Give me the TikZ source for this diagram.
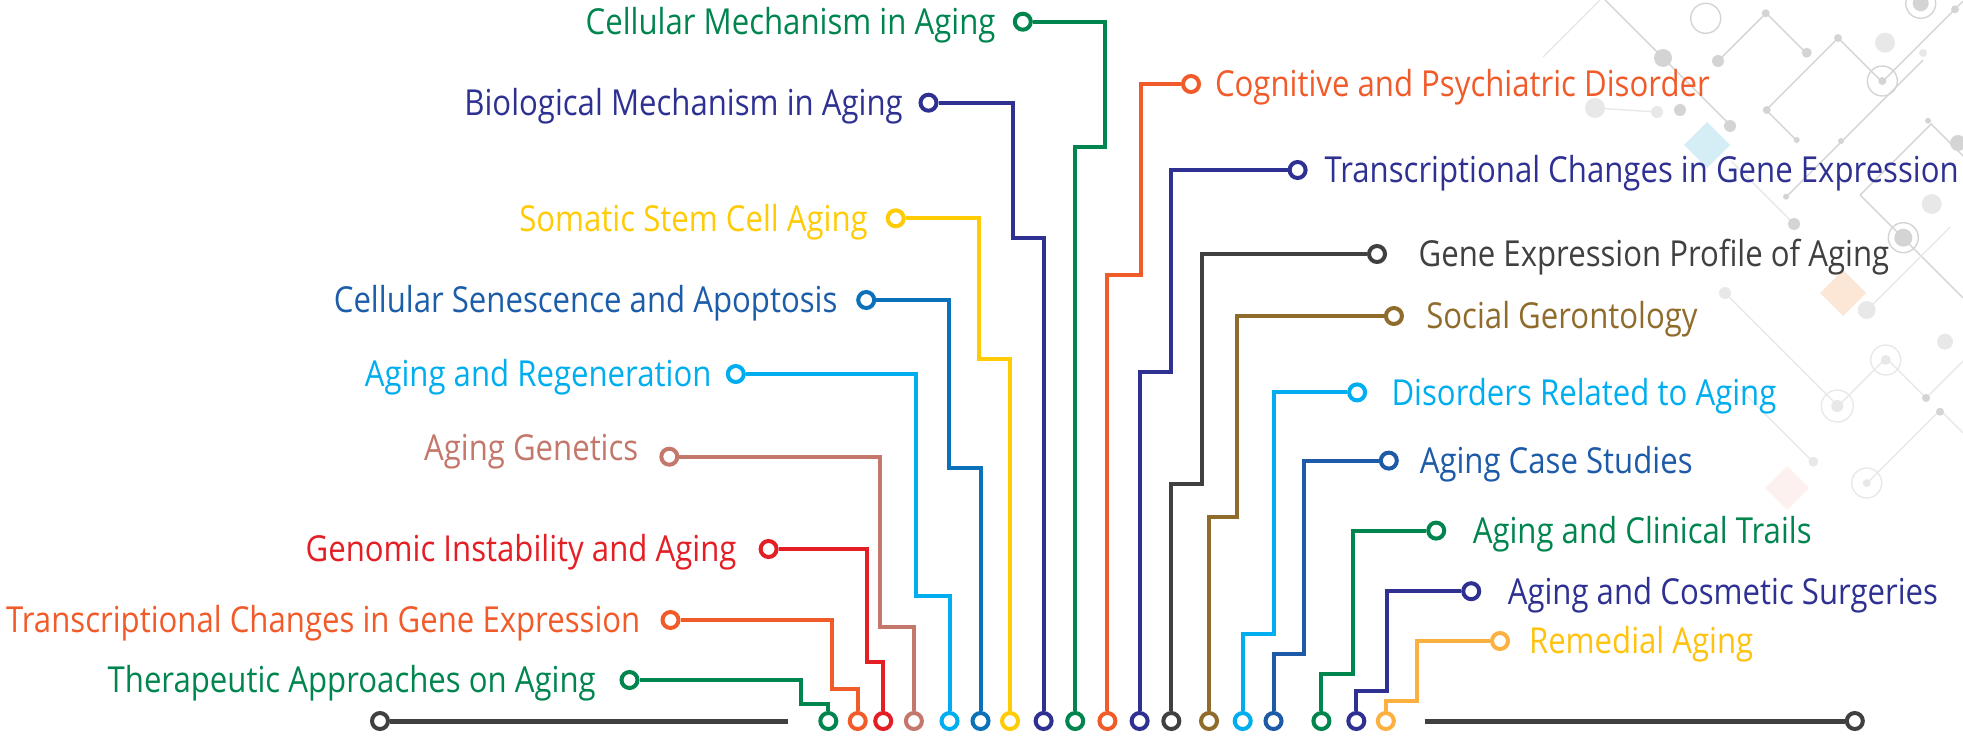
\documentclass[tikz,border=0pt]{standalone}
\usepackage{fontspec}
\setmainfont{Open Sans}[FakeStretch=0.87]
\usetikzlibrary{positioning}

\definecolor{agreen}{HTML}{00854F}
\definecolor{anavy}{HTML}{2E3192}
\definecolor{ayellow}{HTML}{FFCB05}
\definecolor{ablue}{HTML}{0B72BA}
\definecolor{abluetext}{HTML}{1B5DA9}
\definecolor{asky}{HTML}{00AEEF}
\definecolor{arose}{HTML}{C4776B}
\definecolor{ared}{HTML}{E31E25}
\definecolor{aorange}{HTML}{F15A29}
\definecolor{agray}{HTML}{404041}
\definecolor{abrown}{HTML}{8F6C2B}
\definecolor{acase}{HTML}{1D5AA8}
\definecolor{aamber}{HTML}{FBB040}
\definecolor{aambertext}{HTML}{FFC20E}
\definecolor{circ}{HTML}{D4D4D4}
\definecolor{circlight}{HTML}{E8E8E8}

\tikzset{ring/.style={circle,draw=#1,line width=2pt,fill=white,
  minimum size=8pt,inner sep=0pt}}
\tikzset{wire/.style={draw=#1,line width=2pt}}
\tikzset{lbl/.style={text=#1,inner sep=0pt,text height=12.8pt,text depth=0pt,
  font=\fontsize{17.9pt}{21pt}\selectfont}}

\begin{document}
\begin{tikzpicture}[x=0.5pt,y=-0.5pt]
          \useasboundingbox (0,0) rectangle (1963,739);

          % circuit pattern, top right
          \fill[color={rgb,255:red,213;green,237;blue,245}] (1707,122) -- (1730,145) -- (1707,168) -- (1684,145) -- cycle;
          \fill[color={rgb,255:red,252;green,230;blue,213}] (1843,270) -- (1866,293) -- (1843,316) -- (1820,293) -- cycle;
          \fill[color={rgb,255:red,253;green,241;blue,239}] (1787,466) -- (1809,488) -- (1787,510) -- (1765,488) -- cycle;
          \begin{scope}[line width=0.7pt]
          \draw[circ] (1605,0) -- (1663,58) -- (1730,125);
          \draw[circ] (1718,61) -- (1766,13) -- (1806,53);
          \draw[circ] (1766,110) -- (1838,38) -- (1882,82) -- (1963,1);
          \draw[circ] (1766,110) -- (1797,141);
          \draw[circ] (1786,197) -- (1841,142) -- (1923,60);
          \draw[circ] (1860,195) -- (1903,238) -- (1963,298);
          \draw[circ] (1860,195) -- (1931,124) -- (1963,156);
          \draw[circlight] (1794,224) -- (1731,161);
          \draw[circlight] (1725,293) -- (1838,406) -- (1886,358) -- (1926,398) -- (1963,361);
          \draw[circlight] (1867,310) -- (1950,227);
          \draw[circlight] (1813,462) -- (1740,389);
          \draw[circlight] (1867,483) -- (1940,410) -- (1963,433);
          \draw[circlight] (1543,57) -- (1600,0);
          \draw[circlight] (1595,108) -- (1657,112);
          \draw[circ] (1705.7,18.3) circle (7.5pt);
          \draw[circ] (1920.7,3.3) circle (7.5pt);
          \draw[circ] (1882.3,81) circle (7.5pt);
          \draw[circ] (1903.3,237.7) circle (7.5pt);
          \draw[circlight] (1885.7,360) circle (7.5pt);
          \draw[circlight] (1837.3,406) circle (8pt);
          \draw[circlight] (1866.7,483) circle (7.5pt);
          \end{scope}
          \fill[circ] (1920.7,3.3) circle (4pt);
          \fill[circ] (1882.3,81) circle (2pt);
          \fill[circ] (1903.3,237.7) circle (4.5pt);
          \fill[circlight] (1885.7,360) circle (2.5pt);
          \fill[circlight] (1837.3,406) circle (3pt);
          \fill[circlight] (1866.7,483) circle (2pt);
          \fill[circ] (1663,58) circle (4.5pt);
          \fill[circ] (1718,61) circle (3pt);
          \fill[circ] (1765.7,13.3) circle (2pt);
          \fill[circ] (1806.7,52.7) circle (2.5pt);
          \fill[circ] (1838,38) circle (2pt);
          \fill[circlight] (1885,42.7) circle (5pt);
          \fill[circ] (1955,9.3) circle (2pt);
          \fill[circlight] (1923,53) circle (2pt);
          \fill[circ] (1680,110) circle (3pt);
          \fill[circ] (1730,126) circle (3pt);
          \fill[circ] (1766.7,110) circle (2pt);
          \fill[circ] (1796.7,140) circle (1.5pt);
          \fill[circ] (1841,141) circle (1.5pt);
          \fill[circ] (1928,120.7) circle (1.5pt);
          \fill[circ] (1794,224) circle (3pt);
          \fill[circlight] (1931.7,204) circle (5pt);
          \fill[circ] (1786,196.7) circle (1.5pt);
          \fill[circlight] (1725,293) circle (3pt);
          \fill[circlight] (1866.7,310) circle (4.5pt);
          \fill[circlight] (1945,341.7) circle (4pt);
          \fill[circ] (1926,398) circle (2pt);
          \fill[circ] (1940,411.7) circle (2pt);
          \fill[circlight] (1813.3,461.7) circle (2.5pt);
          \fill[circlight] (1595,108) circle (5pt);
          \fill[circlight] (1657,112) circle (3pt);
          \fill[circ] (1958,143) circle (4pt);

          % base line
          \node (g1) at (380,721) [ring=agray] {};
          \node (g2) at (1854.8,721) [ring=agray] {};
          \coordinate (gl) at (787.5,721);
          \coordinate (gr) at (1424.7,721);
          \draw[agray,line width=2.5pt] (g1) -- (gl);
          \draw[agray,line width=2.5pt] (gr) -- (g2);

          % bottom rings
          \node (b1) at (828.3,721) [ring=agreen] {};
          \node (b2) at (857.7,721) [ring=aorange] {};
          \node (b3) at (883.2,721) [ring=ared] {};
          \node (b4) at (913.9,721) [ring=arose] {};
          \node (b5) at (949.5,721) [ring=asky] {};
          \node (b6) at (980.5,721) [ring=ablue] {};
          \node (b7) at (1010,721) [ring=ayellow] {};
          \node (b8) at (1043.6,721) [ring=anavy] {};
          \node (b9) at (1075.2,721) [ring=agreen] {};
          \node (b10) at (1107.4,721) [ring=aorange] {};
          \node (b11) at (1139.6,721) [ring=anavy] {};
          \node (b12) at (1171.3,721) [ring=agray] {};
          \node (b13) at (1209,721) [ring=abrown] {};
          \node (b14) at (1242.7,721) [ring=asky] {};
          \node (b15) at (1273.5,721) [ring=acase] {};
          \node (b16) at (1321.4,721) [ring=agreen] {};
          \node (b17) at (1356.3,721) [ring=anavy] {};
          \node (b18) at (1385.8,721) [ring=aamber] {};

          % label rings
          \node (a1) at (629.5,680) [ring=agreen] {};
          \node (a2) at (670.5,620) [ring=aorange] {};
          \node (a3) at (768.6,549) [ring=ared] {};
          \node (a4) at (669.3,456.7) [ring=arose] {};
          \node (a5) at (735.8,374) [ring=asky] {};
          \node (a6) at (866.2,300) [ring=ablue] {};
          \node (a7) at (895.7,218.3) [ring=ayellow] {};
          \node (a8) at (928.5,102.7) [ring=anavy] {};
          \node (a9) at (1022.8,21.7) [ring=agreen] {};
          \node (a10) at (1191,84) [ring=aorange] {};
          \node (a11) at (1297.6,170) [ring=anavy] {};
          \node (a12) at (1377,254) [ring=agray] {};
          \node (a13) at (1393.9,316) [ring=abrown] {};
          \node (a14) at (1357.1,392.4) [ring=asky] {};
          \node (a15) at (1388.8,460.6) [ring=acase] {};
          \node (a16) at (1436.2,530.6) [ring=agreen] {};
          \node (a17) at (1471.2,591.2) [ring=anavy] {};
          \node (a18) at (1500,641) [ring=aamber] {};

          % wires
          \draw[wire=agreen] (a1) -| (801,704.3) -| (b1);
          \draw[wire=aorange] (a2) -| (831.7,689.3) -| (b2);
          \draw[wire=ared] (a3) -| (867,662.3) -| (b3);
          \draw[wire=arose] (a4) -| (880,626.7) -| (b4);
          \draw[wire=asky] (a5) -| (915.9,595.7) -| (b5);
          \draw[wire=ablue] (a6) -| (949.1,468.3) -| (b6);
          \draw[wire=ayellow] (a7) -| (979,359) -| (b7);
          \draw[wire=anavy] (a8) -| (1012.7,237.7) -| (b8);
          \draw[wire=agreen] (a9) -| (1105.3,146.7) -| (b9);
          \draw[wire=aorange] (a10) -| (1141,275) -| (b10);
          \draw[wire=anavy] (a11) -| (1170.5,371.8) -| (b11);
          \draw[wire=agray] (a12) -| (1201.7,484.3) -| (b12);
          \draw[wire=abrown] (a13) -| (1236.6,516.7) -| (b13);
          \draw[wire=asky] (a14) -| (1273.6,634.3) -| (b14);
          \draw[wire=acase] (a15) -| (1304,654) -| (b15);
          \draw[wire=agreen] (a16) -| (1352.7,674.3) -| (b16);
          \draw[wire=anavy] (a17) -| (1387,691) -| (b17);
          \draw[wire=aamber] (a18) -| (1416.5,700.5) -| (b18);

          % labels
          \node (t1) [lbl=agreen, left=11.7pt of a1] {Therapeutic Approaches on Aging};
          \node (t2) [lbl=aorange, left=9.9pt of a2] {Transcriptional Changes in Gene Expression};
          \node (t3) [lbl=ared, left=10.9pt of a3] {Genomic Instability and Aging};
          \node (t4) [lbl=arose, left=10.3pt of a4, yshift=4.7pt] {Aging Genetics};
          \node (t5) [lbl=asky, left=7pt of a5] {Aging and Regeneration};
          \node (t6) [lbl=abluetext, left=9.2pt of a6] {Cellular Senescence and Apoptosis};
          \node (t7) [lbl=ayellow, left=8.8pt of a7] {Somatic Stem Cell Aging};
          \node (t8) [lbl=anavy, left=7.7pt of a8] {Biological Mechanism in Aging};
          \node (t9) [lbl=agreen, left=8.5pt of a9] {Cellular Mechanism in Aging};
          \node (t10) [lbl=aorange, right=6.8pt of a10] {Cognitive and Psychiatric Disorder};
          \node (t11) [lbl=anavy, right=8.3pt of a11] {Transcriptional Changes in Gene Expression};
          \node (t12) [lbl=agray, right=15.6pt of a12] {Gene Expression Profile of Aging};
          \node (t13) [lbl=abrown, right=11pt of a13] {Social Gerontology};
          \node (t14) [lbl=asky, right=12pt of a14] {Disorders Related to Aging};
          \node (t15) [lbl=acase, right=10.3pt of a15] {Aging Case Studies};
          \node (t16) [lbl=agreen, right=13.1pt of a16] {Aging and Clinical Trails};
          \node (t17) [lbl=anavy, right=13.1pt of a17] {Aging and Cosmetic Surgeries};
          \node (t18) [lbl=aambertext, right=9.3pt of a18] {Remedial Aging};
\end{tikzpicture}
\end{document}
